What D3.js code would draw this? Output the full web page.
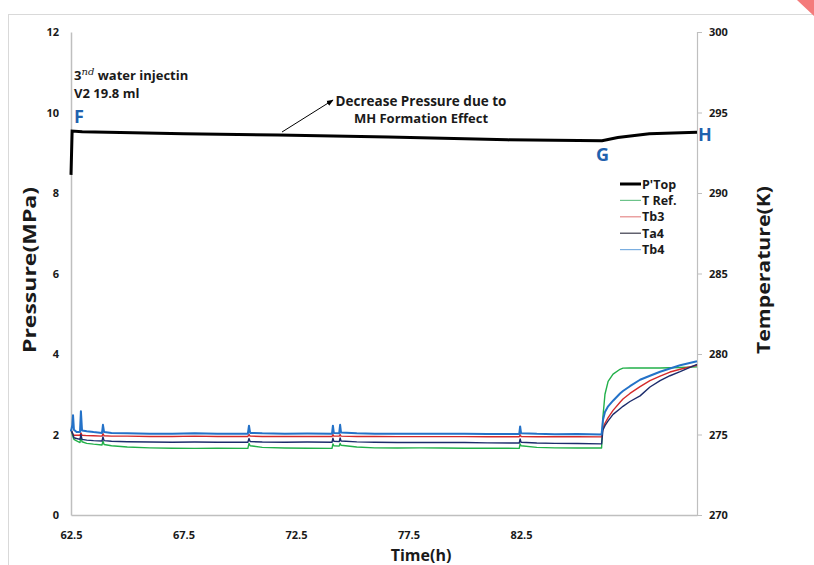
<!DOCTYPE html>
<html>
<head>
<meta charset="utf-8">
<script src="https://cdn.jsdelivr.net/npm/d3@7"></script>
<style>
  body { margin: 0; background: #fff; }
  svg text { font-family: "Open Sans", "Liberation Sans", sans-serif; font-weight: bold; fill: #1a1a1a; }
</style>
</head>
<body>
<svg id="chart" width="814" height="565"></svg>
<script>
// pressure series (left axis)
var pTime = [62.5, 62.55, 63, 67.5, 71.7, 76.6, 80, 81.9, 84, 86.1, 86.8, 88.2, 90.32];
var pTop  = [8.45, 9.54, 9.52, 9.47, 9.44, 9.39, 9.35, 9.32, 9.31, 9.30, 9.38, 9.47, 9.51];

// temperature series (right axis), shared time
var tTime = [62.5, 62.56, 62.59, 62.63, 62.75, 62.9, 62.94, 62.99, 63.2, 63.5,
             63.88, 63.92, 63.97, 64.3, 65, 66, 67, 68, 69, 70.36,
             70.41, 70.46, 71, 72, 73, 74.1, 74.14, 74.18, 74.42, 74.46,
             74.5, 75.2, 76, 77, 78, 79, 80, 81, 82.42, 82.46,
             82.5, 83.2, 84, 85, 86.08, 86.14, 86.23, 86.37, 86.59, 86.9,
             87.03, 87.34, 87.79, 88.23, 88.68, 89.12, 89.57, 90.32];
var tRef = [275.3, 275.0, 274.85, 274.7, 274.6, 274.5, 274.9, 274.55, 274.45, 274.4,
            274.35, 274.6, 274.38, 274.3, 274.22, 274.17, 274.15, 274.14, 274.15, 274.14,
            274.45, 274.3, 274.2, 274.16, 274.15, 274.14, 274.42, 274.3, 274.28, 274.45,
            274.33, 274.22, 274.17, 274.16, 274.17, 274.16, 274.15, 274.15, 274.14, 274.42,
            274.3, 274.2, 274.17, 274.16, 274.16, 276.1, 277.5, 278.3, 278.75, 279.05,
            279.12, 279.13, 279.13, 279.13, 279.13, 279.15, 279.16, 279.2];
var tb3 = [275.3, 275.1, 275.0, 274.95, 274.95, 274.95, 275.1, 274.95, 274.93, 274.92,
           274.9, 275.05, 274.92, 274.9, 274.9, 274.88, 274.88, 274.9, 274.88, 274.88,
           275.0, 274.9, 274.88, 274.88, 274.88, 274.88, 275.0, 274.9, 274.9, 275.0,
           274.9, 274.88, 274.88, 274.87, 274.87, 274.87, 274.87, 274.86, 274.86, 274.98,
           274.88, 274.86, 274.86, 274.86, 274.85, 275.4, 275.7, 276.05, 276.5, 277.0,
           277.2, 277.55, 277.97, 278.35, 278.62, 278.88, 279.05, 279.3];
var ta4 = [275.3, 275.1, 275.0, 274.8, 274.75, 274.7, 275.0, 274.7, 274.65, 274.62,
           274.6, 274.85, 274.62, 274.58, 274.55, 274.53, 274.52, 274.53, 274.52, 274.52,
           274.75, 274.56, 274.53, 274.52, 274.53, 274.52, 274.77, 274.58, 274.56, 274.78,
           274.6, 274.54, 274.52, 274.5, 274.5, 274.5, 274.5, 274.48, 274.47, 274.72,
           274.52, 274.47, 274.45, 274.44, 274.42, 275.28, 275.55, 275.85, 276.25, 276.6,
           276.75, 277.05, 277.4, 277.95, 278.35, 278.65, 278.9, 279.35];
var tb4 = [275.2, 275.6, 276.2, 275.3, 275.15, 275.15, 276.45, 275.25, 275.2, 275.15,
           275.1, 275.6, 275.15, 275.1, 275.08, 275.05, 275.05, 275.07, 275.05, 275.05,
           275.55, 275.1, 275.07, 275.05, 275.06, 275.05, 275.55, 275.1, 275.08, 275.6,
           275.12, 275.07, 275.05, 275.04, 275.05, 275.04, 275.05, 275.03, 275.03, 275.5,
           275.08, 275.04, 275.02, 275.03, 275.0, 275.9, 276.4, 276.75, 277.1, 277.55,
           277.7, 278.0, 278.4, 278.65, 278.9, 279.1, 279.3, 279.55];

var xTicks = [62.5, 67.5, 72.5, 77.5, 82.5];
var pTicks = [0, 2, 4, 6, 8, 10, 12];
var tTicks = [270, 275, 280, 285, 290, 295, 300];
var legendNames = ["P'Top", "T Ref.", "Tb3", "Ta4", "Tb4"];

var svg = d3.select("#chart");
var plotLeft = 71, plotRight = 697, plotTop = 32, plotBottom = 515;

// frame + corner mark
svg.append("line").attr("x1", 8).attr("x2", 814).attr("y1", 14.5).attr("y2", 14.5).attr("stroke", "#d9d9d9");
svg.append("line").attr("x1", 8.5).attr("x2", 8.5).attr("y1", 14).attr("y2", 565).attr("stroke", "#d9d9d9");
svg.append("polygon").attr("points", "797,0 814,0 814,16").attr("fill", "#f47b7b");

var x = d3.scaleLinear().domain([62.5, 90.32]).range([plotLeft, plotRight]);
var yP = d3.scaleLinear().domain([0, 12]).range([plotBottom, plotTop]);
var yT = d3.scaleLinear().domain([270, 300]).range([plotBottom, plotTop]);

// axes
svg.append("g")
   .attr("transform", `translate(${plotLeft},0)`)
   .call(d3.axisLeft(yP).tickValues(pTicks).tickSize(0).tickPadding(12))
   .call(g => g.select(".domain").attr("stroke", "#bfbfbf").attr("stroke-width", 1.5))
   .selectAll("text").style("font-size", "11px");

svg.append("g")
   .attr("transform", `translate(${plotRight},0)`)
   .call(d3.axisRight(yT).tickValues(tTicks).tickSize(5).tickPadding(7))
   .call(g => g.select(".domain").attr("stroke", "#bfbfbf").attr("stroke-width", 1.2))
   .call(g => g.selectAll(".tick line").attr("stroke", "#bfbfbf"))
   .selectAll("text").style("font-size", "11px");

svg.append("g")
   .attr("transform", `translate(0,${plotBottom})`)
   .call(d3.axisBottom(x).tickValues(xTicks).tickFormat(d3.format(".1f")).tickSize(0).tickPadding(16))
   .call(g => g.select(".domain").attr("stroke", "#bfbfbf").attr("stroke-width", 1.5))
   .selectAll("text").style("font-size", "11px");

// axis titles
svg.append("text")
   .attr("transform", "translate(36,270) rotate(-90)")
   .attr("text-anchor", "middle")
   .attr("textLength", 166).attr("lengthAdjust", "spacingAndGlyphs")
   .style("font-size", "17px")
   .text("Pressure(MPa)");
svg.append("text")
   .attr("transform", "translate(770,270) rotate(-90)")
   .attr("text-anchor", "middle")
   .attr("textLength", 168).attr("lengthAdjust", "spacingAndGlyphs")
   .style("font-size", "17px")
   .text("Temperature(K)");
svg.append("text")
   .attr("x", 421).attr("y", 561)
   .attr("text-anchor", "middle")
   .style("font-size", "16px")
   .text("Time(h)");

// temperature lines
var series = [
  { name: "T Ref.", values: tRef, color: "#22b04a", legend: "#6cc38a", width: 1.4 },
  { name: "Tb3", values: tb3, color: "#d42a2a", legend: "#e58a8a", width: 1.4 },
  { name: "Ta4", values: ta4, color: "#1c2c6c", legend: "#3a3a4a", width: 1.4 },
  { name: "Tb4", values: tb4, color: "#2472c8", legend: "#7aaee0", width: 2 }
];
var tLine = d3.line().x((d, i) => x(tTime[i])).y(d => yT(d));
series.forEach(s => {
  svg.append("path")
     .datum(s.values)
     .attr("fill", "none")
     .attr("stroke", s.color)
     .attr("stroke-width", s.width)
     .attr("stroke-linejoin", "round")
     .attr("d", tLine);
});

// pressure line
var pLine = d3.line().x((d, i) => x(pTime[i])).y(d => yP(d));
svg.append("path")
   .datum(pTop)
   .attr("fill", "none")
   .attr("stroke", "#000")
   .attr("stroke-width", 3)
   .attr("d", pLine);

// legend
var legendColors = ["#000"].concat(series.map(s => s.legend));
var lg = svg.append("g").attr("transform", "translate(620,184)");
legendNames.forEach((n, i) => {
  lg.append("line")
    .attr("x1", 0).attr("x2", 21)
    .attr("y1", i * 16.4).attr("y2", i * 16.4)
    .attr("stroke", legendColors[i])
    .attr("stroke-width", i == 0 ? 3 : 1.2);
  lg.append("text")
    .attr("x", 22).attr("y", i * 16.4 + 4.5)
    .style("font-size", "12.5px")
    .text(n);
});

// annotations
var note = svg.append("text").attr("x", 74).attr("y", 80).style("font-size", "13px");
note.append("tspan").text("3");
note.append("tspan").attr("dy", -5).style("font-size", "10px").style("font-style", "italic")
    .style("font-family", "'DejaVu Serif', serif").style("font-weight", "normal").text("nd");
note.append("tspan").attr("dy", 5).text(" water injectin");
svg.append("text").attr("x", 74).attr("y", 98).style("font-size", "13px").text("V2 19.8 ml");

svg.append("text").attr("x", 421).attr("y", 106).attr("text-anchor", "middle")
   .style("font-size", "13.5px").text("Decrease Pressure due to");
svg.append("text").attr("x", 421).attr("y", 123).attr("text-anchor", "middle")
   .style("font-size", "13px").text("MH Formation Effect");

svg.append("defs").append("marker")
   .attr("id", "arrow").attr("viewBox", "0 0 10 10")
   .attr("refX", 9).attr("refY", 5)
   .attr("markerWidth", 7).attr("markerHeight", 7)
   .attr("orient", "auto")
   .append("path").attr("d", "M0,1 L10,5 L0,9 Z").attr("fill", "#000");
svg.append("line")
   .attr("x1", 282).attr("y1", 132).attr("x2", 333).attr("y2", 100)
   .attr("stroke", "#000").attr("stroke-width", 1)
   .attr("marker-end", "url(#arrow)");

var labelBlue = "#1f62ae";
[["F", 74, 123], ["G", 596, 161], ["H", 698, 141]].forEach(l => {
  svg.append("text").attr("x", l[1]).attr("y", l[2])
     .style("font-size", "18px").style("fill", labelBlue).text(l[0]);
});
</script>
</body>
</html>
